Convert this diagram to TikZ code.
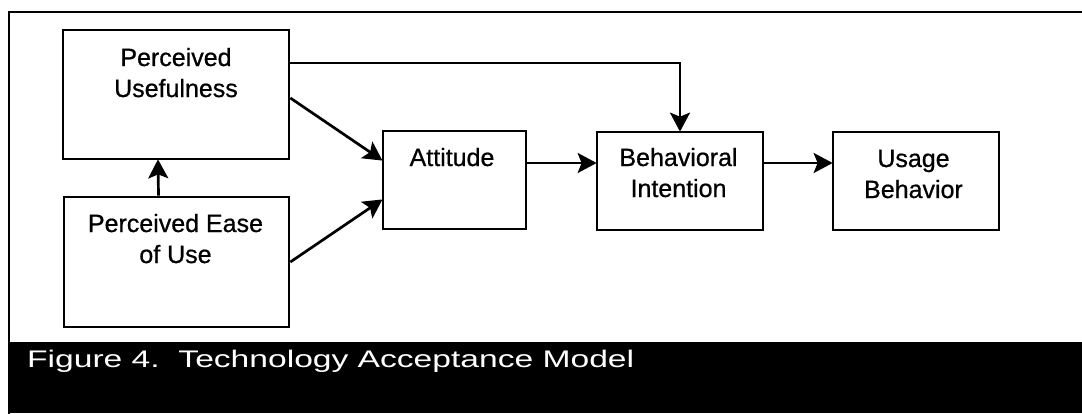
\documentclass[tikz,border=0pt]{standalone}
\usepackage{fontspec}
\usepackage{graphicx}
\setmainfont{Liberation Sans}
\newfontfamily\boxfont[FakeBold=0.7]{Liberation Sans}
\usetikzlibrary{arrows.meta}
\begin{document}
\begin{tikzpicture}[x=1pt,y=-1pt,
  box/.style={draw, line width=2.7pt, rectangle, inner sep=0pt},
  lbl/.style={inner sep=0pt, align=center, anchor=base,
    font=\boxfont\fontsize{25}{31}\selectfont},
  arr/.style={line width=2.7pt, -{Stealth[length=19pt,width=20pt,inset=4pt]}},
  shorten >=-1pt]
\useasboundingbox (0,0) rectangle (1082,413);
% outer frame and caption bar
\draw[line width=2.5pt] (1082,12) -- (9,12) -- (9,413);
\fill[black] (10,342) rectangle (1082,413);
\node[anchor=base west, inner sep=0pt, text=white,
  font=\fontsize{24}{28}\selectfont] (cap) at (27,367)
  {\scalebox{1.40}[1]{Figure 4.\ \ Technology Acceptance Model}};
% boxes
\node[box, minimum width=226pt, minimum height=129pt] (pu)  at (176,94.5) {};
\node[box, minimum width=225pt, minimum height=130pt] (peu) at (176.5,262) {};
\node[box, minimum width=143pt, minimum height=98pt]  (att) at (454.5,180) {};
\node[box, minimum width=166pt, minimum height=98pt]  (bi)  at (680,181) {};
\node[box, minimum width=166pt, minimum height=98pt]  (ub)  at (916,181) {};
% box texts (anchored at the baseline of the last line)
\node[lbl] (tpu)  at (176,97)    {Perceived\\Usefulness};
\node[lbl] (tpeu) at (175.5,263) {Perceived Ease\\of Use};
\node[lbl] (tatt) at (452,166)   {Attitude};
\node[lbl] (tbi)  at (678.5,197) {Behavioral\\Intention};
\node[lbl] (tub)  at (913.5,198) {Usage\\Behavior};
% connectors
\draw[arr] ([yshift=31.5pt]pu.east) -| (bi.north);
\draw[arr] ([yshift=-3.5pt]pu.east) -- ([yshift=20pt]att.west);
\draw[arr] (peu.east) -- ([yshift=-20pt]att.west);
\draw[arr] ([xshift=-18pt]peu.north) -- ([xshift=-18pt]pu.south);
\draw[arr] ([yshift=17pt]att.east) -- ([yshift=17pt]att.east -| bi.west);
\draw[arr] ([yshift=18pt]bi.east) -- ([yshift=18pt]bi.east -| ub.west);
\end{tikzpicture}
\end{document}
